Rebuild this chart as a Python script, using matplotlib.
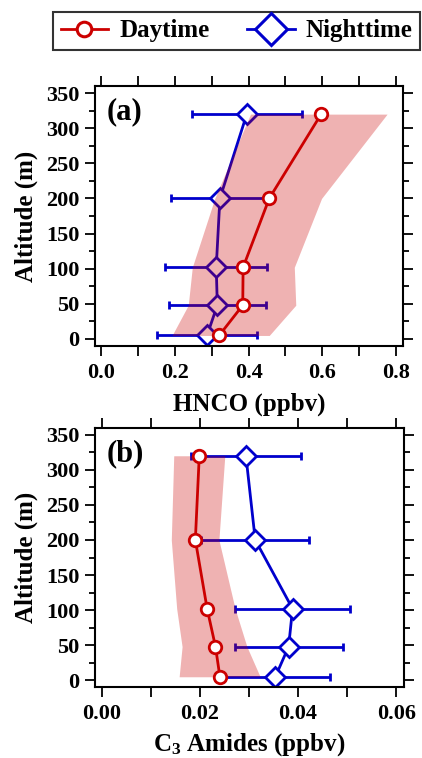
import numpy as np
import matplotlib
matplotlib.use("Agg")
import matplotlib.pyplot as plt
from matplotlib.lines import Line2D
from matplotlib.ticker import MultipleLocator

plt.rcParams['font.family'] = ['Liberation Serif', 'DejaVu Serif']
plt.rcParams['font.weight'] = 'bold'
plt.rcParams['axes.labelweight'] = 'bold'
plt.rcParams['mathtext.fontset'] = 'custom'
plt.rcParams['mathtext.rm'] = 'Liberation Serif:bold'
plt.rcParams['mathtext.bf'] = 'Liberation Serif:bold'
plt.rcParams['mathtext.default'] = 'rm'

# Données
alt = [320, 200, 102, 48, 5]

hnco_day = [0.597, 0.456, 0.385, 0.384, 0.320]
hnco_day_lo = [0.405, 0.308, 0.247, 0.236, 0.192]
hnco_day_hi = [0.776, 0.598, 0.524, 0.528, 0.456]
hnco_night = [0.395, 0.322, 0.312, 0.315, 0.287]
hnco_night_err = [0.150, 0.132, 0.139, 0.131, 0.135]

amid_day = [0.0199, 0.0191, 0.0215, 0.0232, 0.0241]
amid_day_lo = [0.0147, 0.0142, 0.0153, 0.0164, 0.0158]
amid_day_hi = [0.0251, 0.0239, 0.0272, 0.0296, 0.0323]
amid_night = [0.0294, 0.0313, 0.0389, 0.0381, 0.0354]
amid_night_err = [0.0112, 0.0110, 0.0118, 0.0110, 0.0111]

red = '#cc0000'
blue = '#0000cc'

W, H = 422, 758
fig = plt.figure(figsize=(W / 100, H / 100), dpi=100)
ax1 = fig.add_axes([94.7 / W, 1 - 346 / H, 308.6 / W, 260 / H])
ax2 = fig.add_axes([94.7 / W, 1 - 687.3 / H, 309.3 / W, 259.6 / H])


def panel(ax, day, lo, hi, night, err, xlim, xmaj, xmin, label, fmt):
    ax.errorbar(night, alt, xerr=err, color=blue, lw=2, marker='D', ms=10,
                mfc='white', mec=blue, mew=2, capsize=3, capthick=2, zorder=1)
    ax.fill_betweenx(alt, lo, hi, color=red, alpha=0.3, lw=0, zorder=2)
    ax.plot(day, alt, color=red, lw=2, marker='o', ms=9, mfc='white',
            mec=red, mew=2, zorder=3)
    ax.set_xlim(*xlim)
    ax.set_ylim(-10, 360)
    ax.xaxis.set_major_locator(MultipleLocator(xmaj))
    ax.xaxis.set_minor_locator(MultipleLocator(xmin))
    ax.xaxis.set_major_formatter(fmt)
    ax.yaxis.set_major_locator(MultipleLocator(50))
    ax.yaxis.set_minor_locator(MultipleLocator(25))
    ax.tick_params(which='both', direction='out', top=True, right=True,
                   width=1.3, labelsize=16)
    ax.tick_params(which='major', length=7, pad=4)
    ax.tick_params(axis='x', which='major', pad=5)
    ax.tick_params(axis='x', which='minor', length=7)
    ax.tick_params(axis='y', which='minor', length=4)
    for s in ax.spines.values():
        s.set_linewidth(1.5)
    ax.set_ylabel('Altitude (m)', fontsize=18, labelpad=6)
    ax.text(0.04, 0.955, label, transform=ax.transAxes, fontsize=22,
            va='top', ha='left')


panel(ax1, hnco_day, hnco_day_lo, hnco_day_hi, hnco_night, hnco_night_err,
      (-0.018, 0.82), 0.2, 0.1, '(a)', '{x:.1f}')
ax1.set_xlabel('HNCO (ppbv)', fontsize=18, labelpad=7)

panel(ax2, amid_day, amid_day_lo, amid_day_hi, amid_night, amid_night_err,
      (-0.0014, 0.0616), 0.02, 0.01, '(b)', '{x:.2f}')
ax2.set_xlabel(r'C$_{3}$ Amides (ppbv)', fontsize=18, labelpad=5)

handles = [
    Line2D([], [], color=red, lw=2, marker='o', ms=10.5, mfc='white', mec=red, mew=2.2),
    Line2D([], [], color=blue, lw=2, marker='D', ms=16, mfc='white', mec=blue, mew=2.2),
]
leg = fig.legend(handles, ['Daytime', 'Nighttime'], loc='upper left',
                 bbox_to_anchor=(53 / W, 1 - 12 / H), ncol=2, fontsize=18,
                 frameon=True, fancybox=False, edgecolor='black',
                 handlelength=1.9, handletextpad=0.45, columnspacing=1.5,
                 borderpad=0.3, borderaxespad=0)
leg.get_frame().set_linewidth(1.5)

fig.savefig('out.png', dpi=100)
